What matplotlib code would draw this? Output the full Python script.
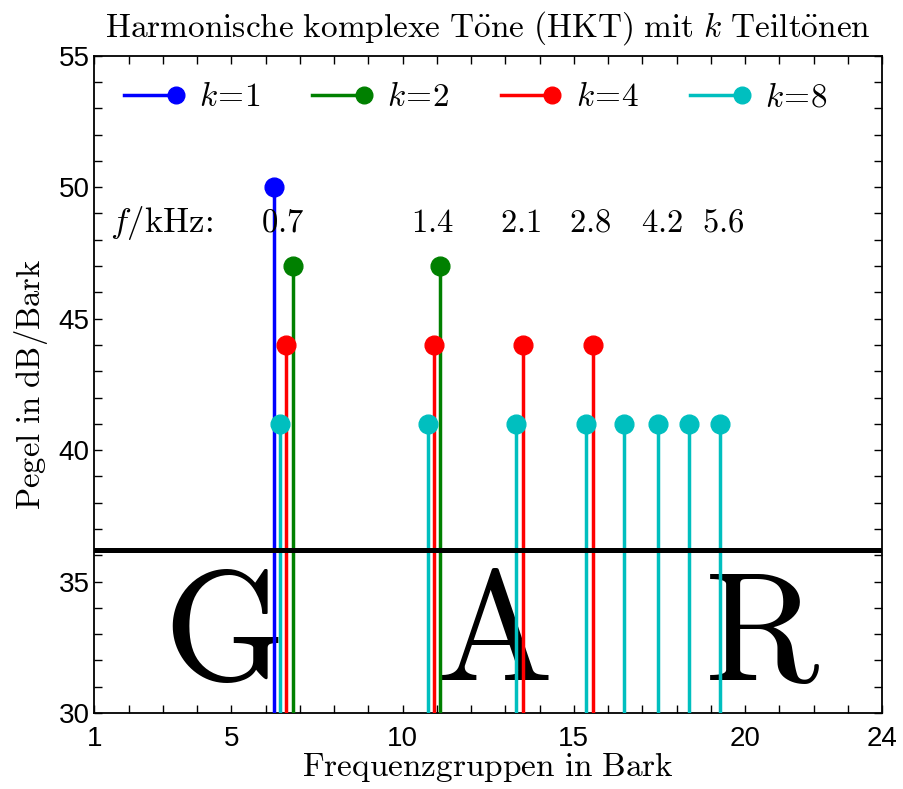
import matplotlib
matplotlib.use('Agg')
import matplotlib.pyplot as plt
from matplotlib.legend_handler import HandlerLine2D
from matplotlib.lines import Line2D
from matplotlib.ticker import FixedLocator, MultipleLocator

plt.rcParams['mathtext.fontset'] = 'cm'
plt.rcParams['font.family'] = ['Liberation Sans', 'DejaVu Sans']

# Daten: Lage der Teiltoene in Bark und Pegel je Serie
k_labels = ['1', '2', '4', '8']
colors = ['#0000ff', '#008000', '#ff0000', '#00bfbf']
bark_k1 = [6.23]
bark_k2 = [6.79, 11.09]
bark_k4 = [6.59, 10.91, 13.52, 15.55]
bark_k8 = [6.41, 10.73, 13.32, 15.35, 16.46, 17.47, 18.36, 19.26]
pegel = [50, 47, 44, 41]
hoerschwelle = 36.2

freq_labels = ['0.7', '1.4', '2.1', '2.8', '4.2', '5.6']
freq_label_x = [6.5, 10.86, 13.43, 15.47, 17.57, 19.35]
letters = ['G', 'A', 'R']
letter_x = [4.71, 12.63, 20.5]

x_ticks = [1, 5, 10, 15, 20, 24]
y_ticks = [30, 35, 40, 45, 50, 55]


class HandlerEndMarker(HandlerLine2D):
    # Marker am rechten Ende der Legendenlinie
    def create_artists(self, *args, **kwargs):
        arts = super().create_artists(*args, **kwargs)
        arts[0].set_markevery([2])
        return arts


fig = plt.figure(figsize=(9.04, 7.89), dpi=100)
ax = fig.add_axes([0.1045, 0.0963, 0.8712, 0.8331])

series = [bark_k1, bark_k2, bark_k4, bark_k8]
handles = []
for xs, lvl, col, lab in zip(series, pegel, colors, k_labels):
    ys = [lvl] * len(xs)
    ml, sl, bl = ax.stem(xs, ys, bottom=30, basefmt=' ')
    plt.setp(sl, color=col, linewidth=2.5, zorder=3)
    plt.setp(ml, color=col, markersize=13.5, zorder=4)
    h = Line2D([], [], color=col, lw=2.5, marker='o', markersize=12)
    handles.append(h)

ax.axhline(hoerschwelle, color='k', lw=3.6, zorder=5)

ax.text(1.45, 48.3, r'$f/\mathrm{kHz}$:', fontsize=25, ha='left', va='baseline',
        family='cmr10')
for lab, xp in zip(freq_labels, freq_label_x):
    ax.text(xp, 48.3, '$\\mathrm{' + lab + '}$', fontsize=23.5, ha='center',
            va='baseline')

for ch, xp in zip(letters, letter_x):
    ax.text(xp, 31.26, '$\\mathrm{' + ch + '}$', fontsize=112, ha='center',
            va='baseline', zorder=1)

leg = ax.legend(handles, ['$k\\!=\\!' + k + '$' for k in k_labels],
                handler_map={Line2D: HandlerEndMarker()},
                loc='upper left', bbox_to_anchor=(0.012, 0.99), ncol=4,
                frameon=False, fontsize=24, handlelength=1.55,
                handletextpad=0.7, columnspacing=1.55, borderaxespad=0.2)

ax.set_xlim(1, 24)
ax.set_ylim(30, 55)
ax.xaxis.set_major_locator(FixedLocator(x_ticks))
ax.xaxis.set_minor_locator(MultipleLocator(1))
ax.yaxis.set_major_locator(FixedLocator(y_ticks))
ax.yaxis.set_minor_locator(MultipleLocator(1))
ax.tick_params(which='both', direction='in', top=True, right=True,
               length=6, width=1, labelsize=20)
ax.tick_params(axis='x', pad=9)
for sp in ax.spines.values():
    sp.set_linewidth(1.3)

ax.set_title(r'$\mathrm{Harmonische\ komplexe\ T\ddot{o}ne\ (HKT)\ mit\ }k\mathrm{\ Teilt\ddot{o}nen}$',
             fontsize=24, pad=14)
ax.set_xlabel(r'$\mathrm{Frequenzgruppen\ in\ Bark}$', fontsize=24, labelpad=-1)
ax.set_ylabel(r'$\mathrm{Pegel\ in\ dB/Bark}$', fontsize=23.5, labelpad=6)

fig.savefig('out.png', dpi=100)
